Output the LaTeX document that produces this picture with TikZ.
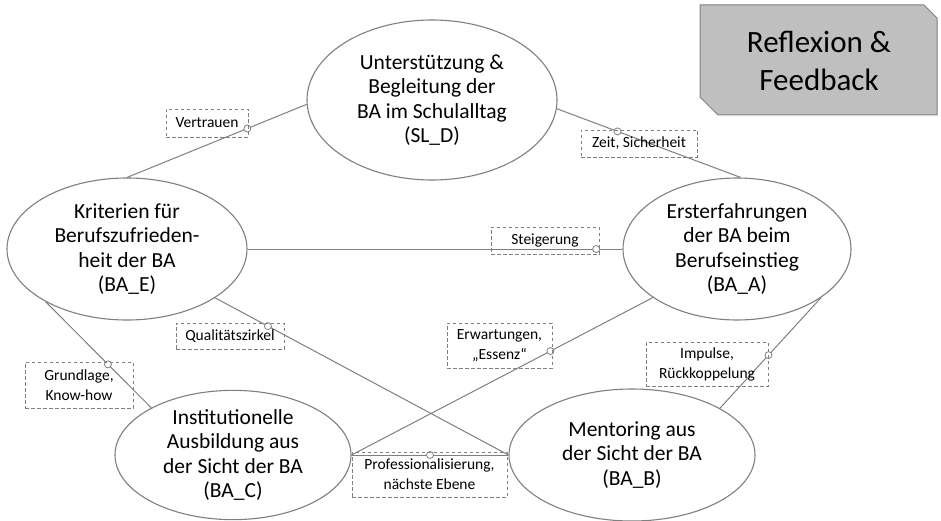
\documentclass[tikz,border=0pt]{standalone}
\usepackage{fontspec}
\setmainfont{Carlito}
\usepackage{xcolor}
\usetikzlibrary{shapes.geometric}

\definecolor{lngray}{HTML}{7F7F7F}
\definecolor{boxgray}{HTML}{BFBFBF}

\begin{document}
\begin{tikzpicture}[
  x=1pt,y=-1pt,
  topic/.style={ellipse,draw=lngray,line width=1.1pt,fill=white,align=center,
                inner sep=0pt,font=\fontsize{21.5}{24.5}\selectfont},
  lbl/.style={draw=lngray,dash pattern=on 3.5pt off 2.5pt,line width=0.8pt,
              align=center,inner sep=0pt,font=\fontsize{15.5}{20}\selectfont},
  ln/.style={draw=lngray,line width=1pt},
  mk/.style={circle,draw=lngray,fill=white,line width=0.8pt,inner sep=0pt,
             minimum size=7pt}
]
\useasboundingbox (0,0) rectangle (941,521);

%% ---- the five topics -----------------------------------------------------
\node[topic,minimum width=250pt,minimum height=160pt] (sld) at (432,100)
  {Unterstützung \&\\Begleitung der\\BA im Schulalltag\\(SL\_D)};
\node[topic,minimum width=240pt,minimum height=142pt] (bae) at (127,249)
  {Kriterien für\\Berufszufrieden-\\heit der BA\\(BA\_E)};
\node[topic,minimum width=228pt,minimum height=142pt] (baa) at (737,249)
  {Ersterfahrungen\\der BA beim\\Berufseinstieg\\(BA\_A)};
\node[topic,minimum width=236pt,minimum height=122pt] (bac) at (233,455)
  {Institutionelle\\Ausbildung aus\\der Sicht der BA\\(BA\_C)};
\node[topic,minimum width=246pt,minimum height=132pt] (bab) at (632,455)
  {Mentoring aus\\der Sicht der BA\\(BA\_B)};

%% ---- links, each with its marker -----------------------------------------
\foreach \a/\b/\p/\m in {bae.90/sld.182/.67/mvt, sld.-4/baa.87/.33/mzs,
    bae.0/baa.180/.93/mst, bae.-29/bab.180/.18/mqz, baa.210/bac.0/.34/mew,
    baa.330/bab.28/.52/mim, bae.213/bac.150/.59/mgk, bac.0/bab.180/.5/mpe}
  \draw[ln] (\a) -- node[mk,pos=\p] (\m) {} (\b);

%% ---- link labels ---------------------------------------------------------
\node[lbl,minimum width=82pt, minimum height=28pt] (lvt) at (207,123)   {Vertrauen};
\node[lbl,minimum width=116pt,minimum height=27pt] (lzs) at (639,143.5) {Zeit, Sicherheit};
\node[lbl,minimum width=108pt,minimum height=27pt] (lst) at (545,240.5) {Steigerung};
\node[lbl,minimum width=108pt,minimum height=26pt] (lqz) at (230,336)   {Qualitätszirkel};
\node[lbl,minimum width=105pt,minimum height=45pt] (lew) at (499.5,345.5) {Erwartungen,\\„Essenz“};
\node[lbl,minimum width=122pt,minimum height=44pt] (lim) at (707,364)   {Impulse,\\Rückkoppelung};
\node[lbl,minimum width=108pt,minimum height=46pt] (lgk) at (79,385)    {Grundlage,\\Know-how};
\node[lbl,minimum width=155pt,minimum height=45pt] (lpe) at (429.5,474.5) {Professionalisierung,\\nächste Ebene};

%% ---- corner tag ----------------------------------------------------------
\filldraw[fill=boxgray,draw=lngray,line width=1pt]
  (700,5) -- (924,5) -- (937,18) -- (937,115) -- (718,115) -- (700,97) -- cycle;
\node[align=center,font=\fontsize{31}{38}\selectfont] (rf) at (819,61)
  {Reflexion \&\\Feedback};
\end{tikzpicture}
\end{document}
